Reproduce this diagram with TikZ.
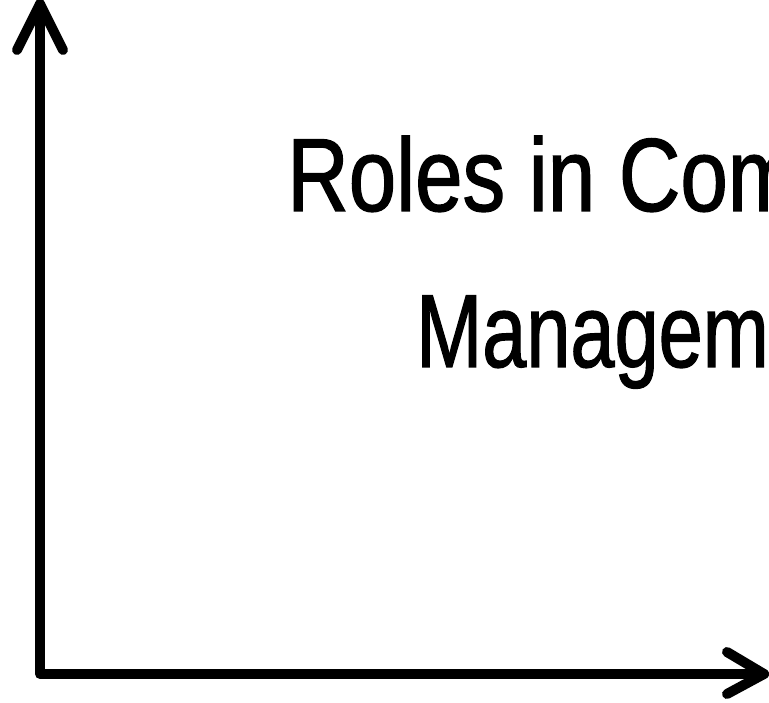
\documentclass[tikz,border=0pt]{standalone}
\usepackage{fontspec}
\newfontfamily\handfont[FakeStretch=0.82,FakeBold=1.2]{Liberation Sans}
\tikzset{
  axisline/.style={line width=10pt, line cap=round, line join=round},
  titletext/.style={inner sep=0pt, anchor=base west, font=\handfont\fontsize{104}{110}\selectfont}
}

\begin{document}
\begin{tikzpicture}[x=1pt,y=1pt]
      \clip (0,0) rectangle (769,703);

      % Axis corners
      \coordinate (origin) at (40,29);
      \coordinate (ytip) at (40,699);
      \coordinate (xtip) at (764,29);

      % Add Axes
      \draw[axisline] (ytip) -- (origin) -- (xtip);

      % Arrow heads
      \draw[axisline] (ytip) -- ++(-23,-46);
      \draw[axisline] (ytip) -- ++(23,-46);
      \draw[axisline] (xtip) -- ++(-37,22);
      \draw[axisline] (xtip) -- ++(-37,-20);

      % Title
      \node[titletext] (titleone) at (287,492) {Roles in Com};
      \node[titletext, xscale=0.93, transform shape] (titletwo) at (416,336) {Manageme};
\end{tikzpicture}
\end{document}
